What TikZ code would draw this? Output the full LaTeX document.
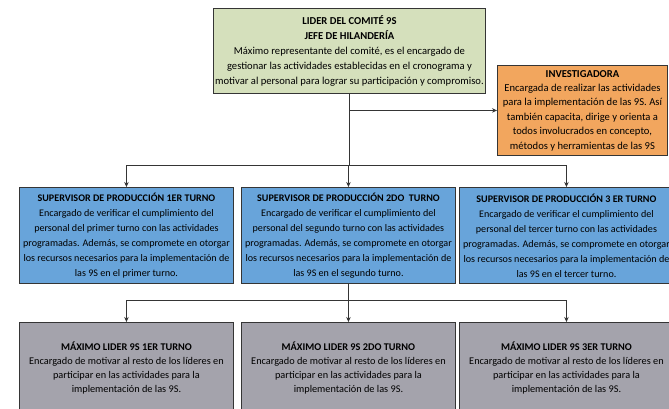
\documentclass[tikz,border=0pt]{standalone}
\usepackage{fontspec}
\setmainfont{Carlito}
\usetikzlibrary{arrows.meta}
\definecolor{gfill}{HTML}{D5E0BC}
\definecolor{ofill}{HTML}{F2A65E}
\definecolor{bfill}{HTML}{68A4DA}
\definecolor{grfill}{HTML}{A4A3AC}
\definecolor{edge}{HTML}{353535}
\begin{document}
\begin{tikzpicture}[x=1pt,y=-1pt,
  box/.style={draw=edge, line width=0.9pt, align=center, inner sep=0pt,
    anchor=north west, font=\fontsize{10.6}{14.8}\selectfont},
  greenbox/.style={box, fill=gfill, minimum width=272pt, minimum height=85pt},
  orangebox/.style={box, fill=ofill, minimum width=170pt, minimum height=90pt,
    font=\fontsize{10.6}{14.4}\selectfont},
  bluebox/.style={box, fill=bfill, minimum width=214pt, minimum height=96pt,
    font=\fontsize{10.1}{15}\selectfont},
  greybox/.style={box, fill=grfill, minimum width=214pt, minimum height=92pt,
    font=\fontsize{10.3}{14}\selectfont},
  conn/.style={draw=edge, line width=0.7pt},
  arr/.style={conn, -{Stealth[length=5pt,width=4.5pt]}}]
\useasboundingbox (0,0) rectangle (669,409);
\fill[white] (0,0) rectangle (669,409);

\node[greenbox] (lider) at (213,8) {\textbf{LIDER DEL COMITÉ 9S}\\
  \textbf{JEFE DE HILANDERÍA}\\
  Máximo representante del comité, es el encargado de\\
  gestionar las actividades establecidas en el cronograma y\\
  motivar al personal para lograr su participación y compromiso.};

\node[orangebox] (inv) at (497,65) {\textbf{INVESTIGADORA}\\
  Encargada de realizar las actividades\\
  para la implementación de las 9S. Así\\
  también capacita, dirige y orienta a\\
  todos involucrados en concepto,\\
  métodos y herramientas de las 9S};

\node[bluebox] (sup1) at (19,187) {\textbf{SUPERVISOR DE PRODUCCIÓN 1ER TURNO}\\
  Encargado de verificar el cumplimiento del\\
  personal del primer turno con las actividades\\
  programadas. Además, se compromete en otorgar\\
  los recursos necesarios para la implementación de\\
  las 9S en el primer turno.};

\node[bluebox] (sup2) at (241,187) {\textbf{SUPERVISOR DE PRODUCCIÓN 2DO\ \ TURNO}\\
  Encargado de verificar el cumplimiento del\\
  personal del segundo turno con las actividades\\
  programadas. Además, se compromete en otorgar\\
  los recursos necesarios para la implementación de\\
  las 9S en el segundo turno.};

\node[bluebox] (sup3) at (459,187) {\textbf{SUPERVISOR DE PRODUCCIÓN 3 ER TURNO}\\
  Encargado de verificar el cumplimiento del\\
  personal del tercer turno con las actividades\\
  programadas. Además, se compromete en otorgar\\
  los recursos necesarios para la implementación de\\
  las 9S en el tercer turno.};

\node[greybox] (max1) at (19,322) {\textbf{MÁXIMO LIDER 9S 1ER TURNO}\\
  Encargado de motivar al resto de los líderes en\\
  participar en las actividades para la\\
  implementación de las 9S.};

\node[greybox] (max2) at (241,322) {\textbf{MÁXIMO LIDER 9S 2DO TURNO}\\
  Encargado de motivar al resto de los líderes en\\
  participar en las actividades para la\\
  implementación de las 9S.};

\node[greybox] (max3) at (459,322) {\textbf{MÁXIMO LIDER 9S 3ER TURNO}\\
  Encargado de motivar al resto de los líderes en\\
  participar en las actividades para la\\
  implementación de las 9S.};

\coordinate (bus1) at (349,165);
\coordinate (bus2) at (349,300);

% trunk and branch to investigadora
\draw[conn] (lider.south) -- (lider.south |- bus1);
\draw[arr] (lider.south |- inv.west) -- (inv.west);

% bus to supervisors
\draw[conn] (sup1.north |- bus1) -- (sup3.north |- bus1);
\draw[arr] (sup1.north |- bus1) -- (sup1.north);
\draw[arr] (sup2.north |- bus1) -- (sup2.north);
\draw[arr] (sup3.north |- bus1) -- (sup3.north);

% bus to maximo lideres
\draw[conn] (sup2.south) -- (sup2.south |- bus2);
\draw[conn] (max1.north |- bus2) -- (max3.north |- bus2);
\draw[arr] (max1.north |- bus2) -- (max1.north);
\draw[arr] (max2.north |- bus2) -- (max2.north);
\draw[arr] (max3.north |- bus2) -- (max3.north);
\end{tikzpicture}
\end{document}
